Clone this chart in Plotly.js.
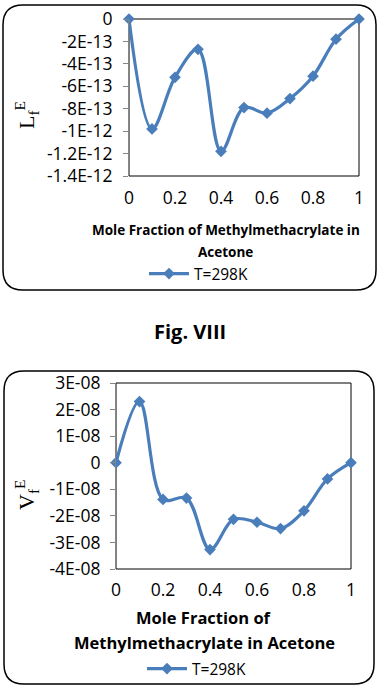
<!DOCTYPE html>
<html>
<head>
<meta charset="utf-8">
<script src="https://cdn.plot.ly/plotly-3.0.1.min.js"></script>
<style>
html,body{margin:0;padding:0;background:#fff;}
#chart{width:380px;height:692px;}
</style>
</head>
<body>
<div id="chart"></div>
<script>
// ---- data ----
const moleFraction = [0, 0.1, 0.2, 0.3, 0.4, 0.5, 0.6, 0.7, 0.8, 0.9, 1];
const lfValues = [0, -9.8e-13, -5.2e-13, -2.7e-13, -1.18e-12, -7.9e-13, -8.4e-13, -7.1e-13, -5.1e-13, -1.8e-13, 0];
const vfValues = [0, 2.3e-8, -1.38e-8, -1.33e-8, -3.27e-8, -2.13e-8, -2.24e-8, -2.48e-8, -1.81e-8, -6.1e-9, 0];
const seriesName = 'T=298K';
const xTickVals = [0, 0.2, 0.4, 0.6, 0.8, 1];
const xTickText = ['0', '0.2', '0.4', '0.6', '0.8', '1'];
const lfTickVals = [0, -2e-13, -4e-13, -6e-13, -8e-13, -1e-12, -1.2e-12, -1.4e-12];
const lfTickText = ['0', '-2E-13', '-4E-13', '-6E-13', '-8E-13', '-1E-12', '-1.2E-12', '-1.4E-12'];
const vfTickVals = [3e-8, 2e-8, 1e-8, 0, -1e-8, -2e-8, -3e-8, -4e-8];
const vfTickText = ['3E-08', '2E-08', '1E-08', '0', '-1E-08', '-2E-08', '-3E-08', '-4E-08'];
const xTitleTop = ['Mole Fraction of Methylmethacrylate in', 'Acetone'];
const xTitleBottom = ['Mole Fraction of', 'Methylmethacrylate in Acetone'];
const figCaption = 'Fig. VIII';

// ---- layout helpers ----
const W = 380, H = 692;
const px = v => v / W;
const py = v => 1 - v / H;
const FONT = 'Open Sans, Lato, sans-serif';
const LINE = '#4A7EBB';
const AXIS = '#868686';

const topDom = {x: [px(129), px(359)], y: [py(176), py(19)]};
const botDom = {x: [px(116), px(351)], y: [py(569), py(383)]};
const vRange = [-4e-8, 3e-8];
const zeroPos = botDom.y[0] + (botDom.y[1] - botDom.y[0]) * (0 - vRange[0]) / (vRange[1] - vRange[0]);

const lineStyle = {color: LINE, width: 3.2, shape: 'spline', smoothing: 1};
const markerStyle = {symbol: 'diamond', size: 9, color: LINE};

const traces = [
  {x: moleFraction, y: lfValues, xaxis: 'x', yaxis: 'y', mode: 'lines+markers', name: seriesName,
   line: lineStyle, marker: markerStyle, legend: 'legend', cliponaxis: false},
  {x: moleFraction, y: vfValues, xaxis: 'x3', yaxis: 'y3', mode: 'lines+markers', name: seriesName,
   line: lineStyle, marker: markerStyle, legend: 'legend2', cliponaxis: false}
];

const tickFont = {family: FONT, size: 17.5, color: '#000'};

function roundRect(x0, y0, x1, y1, r) {
  const Y = v => -v;
  return `M${x0 + r},${Y(y0)} L${x1 - r},${Y(y0)} Q${x1},${Y(y0)} ${x1},${Y(y0 + r)} ` +
         `L${x1},${Y(y1 - r)} Q${x1},${Y(y1)} ${x1 - r},${Y(y1)} L${x0 + r},${Y(y1)} ` +
         `Q${x0},${Y(y1)} ${x0},${Y(y1 - r)} L${x0},${Y(y0 + r)} Q${x0},${Y(y0)} ${x0 + r},${Y(y0)} Z`;
}

const layout = {
  width: W, height: H,
  margin: {l: 0, r: 0, t: 0, b: 0},
  paper_bgcolor: '#fff', plot_bgcolor: 'rgba(0,0,0,0)',
  font: {family: FONT, color: '#000'},
  showlegend: true,
  xaxis: {domain: topDom.x, range: [0, 1], anchor: 'y', tickvals: xTickVals, ticktext: xTickText,
          ticks: '', showline: false, showgrid: false, zeroline: false, tickfont: tickFont,
          ticklabelstandoff: 9, fixedrange: true},
  xaxis2: {overlaying: 'x', matches: 'x', anchor: 'y', side: 'top', range: [0, 1], dtick: 0.1, tick0: 0,
           ticks: 'inside', ticklen: 6, tickcolor: AXIS, tickwidth: 1, showline: true, linecolor: AXIS,
           linewidth: 1, showticklabels: false, showgrid: false, zeroline: false},
  yaxis: {domain: topDom.y, range: [-1.4e-12, 0], anchor: 'x', tickvals: lfTickVals, ticktext: lfTickText,
          ticks: 'outside', ticklen: 5, tickcolor: AXIS, showline: true, linecolor: AXIS, linewidth: 1,
          showgrid: false, zeroline: false, tickfont: tickFont, ticklabelstandoff: 7},
  xaxis3: {domain: botDom.x, range: [0, 1], anchor: 'y3', tickvals: xTickVals, ticktext: xTickText,
           ticks: '', showline: false, showgrid: false, zeroline: false, tickfont: tickFont,
           ticklabelstandoff: 8},
  xaxis4: {overlaying: 'x3', matches: 'x3', anchor: 'free', position: zeroPos, side: 'bottom', range: [0, 1],
           dtick: 0.1, tick0: 0, ticks: 'outside', ticklen: 6, tickcolor: AXIS, showline: true,
           linecolor: AXIS, linewidth: 1, showticklabels: false, showgrid: false, zeroline: false},
  yaxis3: {domain: botDom.y, range: vRange, anchor: 'x3', tickvals: vfTickVals, ticktext: vfTickText,
           ticks: 'outside', ticklen: 5, tickcolor: AXIS, showline: true, linecolor: AXIS, linewidth: 1,
           showgrid: false, zeroline: false, tickfont: tickFont, ticklabelstandoff: 6},
  legend: {x: px(144), y: py(274), xanchor: 'left', yanchor: 'middle', bgcolor: 'rgba(0,0,0,0)',
           font: {family: FONT, size: 15.5, color: '#000'}, itemwidth: 40},
  legend2: {x: px(142), y: py(669), xanchor: 'left', yanchor: 'middle', bgcolor: 'rgba(0,0,0,0)',
            font: {family: FONT, size: 15.5, color: '#000'}, itemwidth: 40},
  shapes: [
    {type: 'rect', xref: 'x domain', yref: 'y domain', x0: 0, x1: 1, y0: 0, y1: 1,
     line: {color: '#000', width: 1}, layer: 'below'},
    {type: 'rect', xref: 'x3 domain', yref: 'y3 domain', x0: 0, x1: 1, y0: 0, y1: 1,
     line: {color: '#000', width: 1}, layer: 'below'},
    {type: 'path', xref: 'paper', yref: 'paper', xsizemode: 'pixel', ysizemode: 'pixel',
     xanchor: 0, yanchor: 1, path: roundRect(3, 5, 376, 290, 20), line: {color: '#000', width: 1.5}},
    {type: 'path', xref: 'paper', yref: 'paper', xsizemode: 'pixel', ysizemode: 'pixel',
     xanchor: 0, yanchor: 1, path: roundRect(4, 371, 374, 684, 20), line: {color: '#000', width: 1.5}}
  ],
  annotations: [
    {text: 'L<sub>f</sub><sup>E</sup>', xref: 'paper', yref: 'paper', x: px(26), y: py(115),
     xanchor: 'center', yanchor: 'middle', textangle: -90, showarrow: false,
     font: {family: 'Liberation Serif, DejaVu Serif, serif', size: 22, color: '#000'}},
    {text: 'V<sub>f</sub><sup>E</sup>', xref: 'paper', yref: 'paper', x: px(26), y: py(495),
     xanchor: 'center', yanchor: 'middle', textangle: -90, showarrow: false,
     font: {family: 'Liberation Serif, DejaVu Serif, serif', size: 22, color: '#000'}},
    {text: xTitleTop[0], xref: 'paper', yref: 'paper', x: px(226), y: py(230), xanchor: 'center',
     yanchor: 'middle', showarrow: false, font: {family: FONT, size: 13.5, weight: 'bold', color: '#000'}},
    {text: xTitleTop[1], xref: 'paper', yref: 'paper', x: px(226), y: py(252), xanchor: 'center',
     yanchor: 'middle', showarrow: false, font: {family: FONT, size: 13.5, weight: 'bold', color: '#000'}},
    {text: xTitleBottom[0], xref: 'paper', yref: 'paper', x: px(204), y: py(617), xanchor: 'center',
     yanchor: 'middle', showarrow: false, font: {family: FONT, size: 16.5, weight: 'bold', color: '#000'}},
    {text: xTitleBottom[1], xref: 'paper', yref: 'paper', x: px(204), y: py(642), xanchor: 'center',
     yanchor: 'middle', showarrow: false, font: {family: FONT, size: 16.5, weight: 'bold', color: '#000'}},
    {text: figCaption, xref: 'paper', yref: 'paper', x: px(190), y: py(332), xanchor: 'center',
     yanchor: 'middle', showarrow: false, font: {family: FONT, size: 20, weight: 'bold', color: '#000'}}
  ]
};

Plotly.newPlot('chart', traces, layout, {staticPlot: true, displayModeBar: false});
</script>
</body>
</html>
